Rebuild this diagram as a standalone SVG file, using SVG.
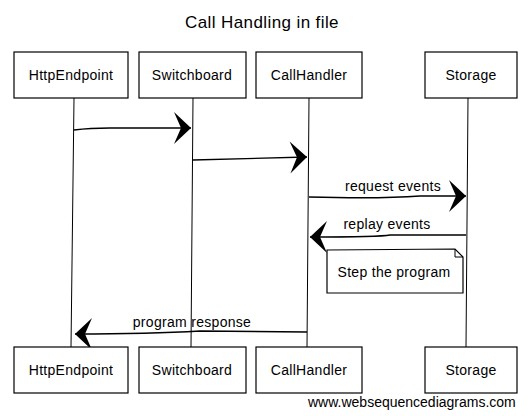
<svg xmlns="http://www.w3.org/2000/svg" width="532" height="416" viewBox="0 0 532 416">
<style>
.box{fill:#fff;stroke:#000;stroke-width:1.2}
.life{fill:none;stroke:#000;stroke-width:1}
.msg{fill:none;stroke:#000;stroke-width:1.4}
.t{font-family:"Liberation Sans",Arial,sans-serif;font-size:14px;letter-spacing:0.3px;fill:#000;text-anchor:middle}
.title{font-family:"Liberation Sans",Arial,sans-serif;font-size:17px;letter-spacing:0.4px;fill:#000;text-anchor:middle}
.foot{font-family:"Liberation Sans",Arial,sans-serif;font-size:14px;fill:#000}
</style>
<defs>
<marker id="ah" markerUnits="userSpaceOnUse" markerWidth="20" markerHeight="34" refX="18" refY="17" orient="auto">
<path d="M1,1 L18,17 L1,33 L8,17 Z" fill="#000"/>
</marker>
</defs>
<rect width="532" height="416" fill="#fff"/>
<text class="title" x="262" y="28">Call Handling in file</text>
<g id="lifelines">
<path class="life" d="M74,98 L71,347"/>
<path class="life" d="M193,98 L191,347"/>
<path class="life" d="M309,98 L307,347"/>
<path class="life" d="M468,98 L466,347"/>
</g>
<g id="connectors">
<path class="msg" d="M74,130 Q90,128 110,128 L191,128" marker-end="url(#ah)"/>
<path class="msg" d="M193,160 L307,157" marker-end="url(#ah)"/>
<path class="msg" d="M309,197 Q380,199 420,196 L466,196" marker-end="url(#ah)"/>
<path class="msg" d="M466,235 L390,235 Q380,237 310,237" marker-end="url(#ah)"/>
<path class="msg" d="M307,332 L200,331 Q150,334 75,334" marker-end="url(#ah)"/>
<text class="t" x="393" y="191">request events</text>
<text class="t" x="387" y="229">replay events</text>
<text class="t" x="192" y="327">program response</text>
</g>
<g id="note">
<path class="box" d="M327,250 L455,249 L463,257 L463,293 L327,293 Z"/>
<path class="life" d="M455,249 L455,257 L463,257"/>
<text class="t" x="394" y="277">Step the program</text>
</g>
<g id="HttpEndpoint_top"><rect class="box" x="14" y="52" width="114" height="46"/><text class="t" x="71" y="80">HttpEndpoint</text></g>
<g id="Switchboard_top"><rect class="box" x="139" y="52" width="107" height="46"/><text class="t" x="192" y="80">Switchboard</text></g>
<g id="CallHandler_top"><rect class="box" x="256" y="52" width="106" height="46"/><text class="t" x="309" y="80">CallHandler</text></g>
<g id="Storage_top"><rect class="box" x="425" y="52" width="92" height="46"/><text class="t" x="471" y="80">Storage</text></g>
<g id="HttpEndpoint_bottom"><rect class="box" x="14" y="347" width="114" height="46"/><text class="t" x="71" y="375">HttpEndpoint</text></g>
<g id="Switchboard_bottom"><rect class="box" x="139" y="347" width="107" height="46"/><text class="t" x="192" y="375">Switchboard</text></g>
<g id="CallHandler_bottom"><rect class="box" x="256" y="347" width="106" height="46"/><text class="t" x="309" y="375">CallHandler</text></g>
<g id="Storage_bottom"><rect class="box" x="425" y="347" width="92" height="46"/><text class="t" x="471" y="375">Storage</text></g>
<text class="foot" x="308" y="407">www.websequencediagrams.com</text>
</svg>
